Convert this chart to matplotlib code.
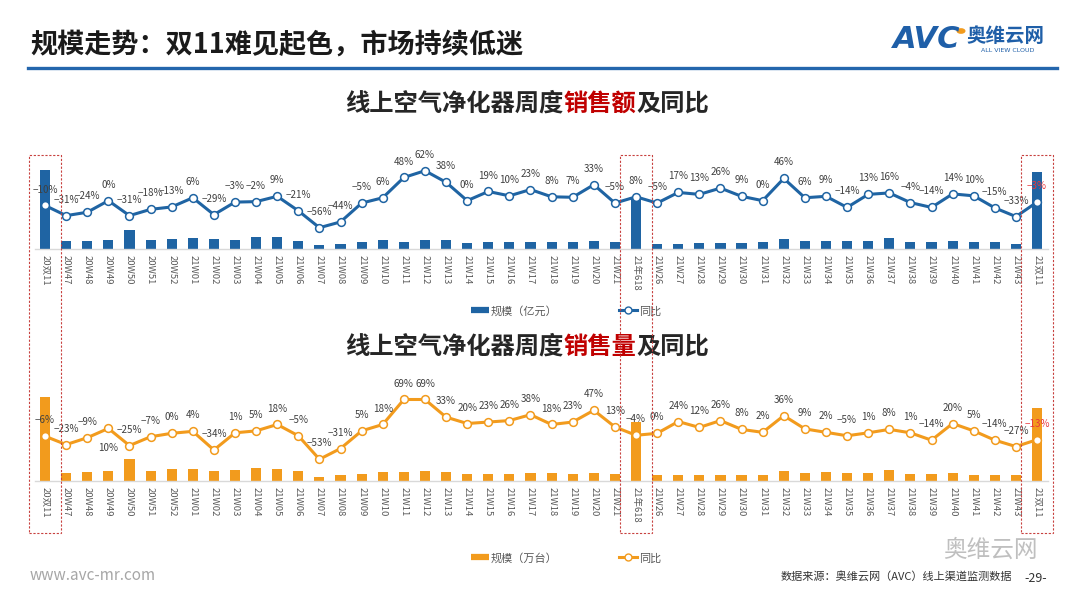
import matplotlib
matplotlib.use('Agg')
import matplotlib.pyplot as plt
from matplotlib.lines import Line2D
from matplotlib.patches import Rectangle
from matplotlib.transforms import blended_transform_factory

plt.rcParams['font.family'] = ['Noto Sans CJK SC', 'DejaVu Sans']
plt.rcParams['axes.unicode_minus'] = False

# ---------------- data ----------------
categories = ['20双11', '20W47', '20W48', '20W49', '20W50', '20W51', '20W52',
              '21W01', '21W02', '21W03', '21W04', '21W05', '21W06', '21W07', '21W08',
              '21W09', '21W10', '21W11', '21W12', '21W13', '21W14', '21W15', '21W16',
              '21W17', '21W18', '21W19', '21W20', '21W21', '21年618',
              '21W26', '21W27', '21W28', '21W29', '21W30', '21W31', '21W32', '21W33',
              '21W34', '21W35', '21W36', '21W37', '21W38', '21W39', '21W40', '21W41',
              '21W42', '21W43', '21双11']

sales_value = [15.9, 1.7, 1.7, 1.9, 3.9, 1.9, 2.1, 2.2, 2.1, 1.9, 2.4, 2.4, 1.7, 0.8, 1.0,
               1.4, 1.8, 1.5, 1.8, 1.8, 1.2, 1.4, 1.4, 1.4, 1.5, 1.4, 1.6, 1.4, 10.1,
               1.1, 1.1, 1.2, 1.2, 1.2, 1.4, 2.1, 1.7, 1.7, 1.7, 1.7, 2.2, 1.4, 1.5, 1.7,
               1.4, 1.4, 1.1, 15.5]
sales_yoy = [-10, -31, -24, 0, -31, -18, -13, 6, -29, -3, -2, 9, -21, -56, -44,
             -5, 6, 48, 62, 38, 0, 19, 10, 23, 8, 7, 33, -5, 8,
             -5, 17, 13, 26, 9, 0, 46, 6, 9, -14, 13, 16, -4, -14, 14, 10,
             -15, -33, -3]

volume = [126, 12, 13.5, 15, 32.5, 15, 17.5, 18.5, 15, 16.5, 20, 18.5, 15, 6, 8.5,
          11, 13.5, 13.5, 15, 13.5, 11, 11, 11, 12, 12, 11, 12, 11, 88,
          8.5, 9.5, 8.5, 9.5, 8.5, 9.5, 15, 12, 13.5, 12, 12, 16.5, 11, 11, 12,
          9.5, 9.5, 8.5, 110]
volume_yoy = [-6, -23, -9, 10, -25, -7, 0, 4, -34, 1, 5, 18, -5, -53, -31,
              5, 18, 69, 69, 33, 20, 23, 26, 38, 18, 23, 47, 13, -4,
              0, 24, 12, 26, 8, 2, 36, 9, 2, -5, 1, 8, 1, -14, 20, 5,
              -14, -27, -13]

highlight = ['20双11', '21年618', '21双11']

# ---------------- style ----------------
W, H = 1080, 608
BLUE = '#1f64a3'
ORANGE = '#f29b1d'
RED_TXT = '#c00000'
LABEL_RED = '#e8383d'
GRAY_TXT = '#404040'

fig = plt.figure(figsize=(W / 100, H / 100), dpi=100)
fig.patch.set_facecolor('white')


def fx(px):
    return px / W


def fy(py):
    return 1 - py / H


x = list(range(len(categories)))
ax_left, ax_right = 34.5, 1047.6


def make_panel(base_py, top_py, bars, yoy, color, bar_max, yoy_lim, below=()):
    ax = fig.add_axes([fx(ax_left), fy(base_py), fx(ax_right - ax_left), (base_py - top_py) / H])
    ax.bar(x, bars, width=0.48, color=color, zorder=2)
    ax.set_xlim(-0.5, len(categories) - 0.5)
    ax.set_ylim(0, bar_max)
    for s in ['top', 'left', 'right']:
        ax.spines[s].set_visible(False)
    ax.spines['bottom'].set_color('#d9d9d9')
    ax.spines['bottom'].set_linewidth(1.0)
    ax.set_yticks([])
    ax.set_xticks(x)
    ax.set_xticklabels(categories, rotation=270, fontsize=6.8, color='#595959')
    ax.tick_params(axis='x', length=0, pad=4)
    for lab in ax.get_xticklabels():
        lab.set_va('top')
        lab.set_ha('center')
    ax.patch.set_alpha(0)

    ax2 = ax.twinx()
    ax2.set_ylim(*yoy_lim)
    ax2.plot(x, yoy, color=color, lw=2.2, marker='o', markersize=5.6,
             markerfacecolor='white', markeredgecolor=color, markeredgewidth=1.1, zorder=5)
    ax2.axis('off')
    for i, v in enumerate(yoy):
        txt = f'{v}%'.replace('-', '−')
        c = LABEL_RED if i == len(yoy) - 1 else GRAY_TXT
        dy = -14 if i in below else 11.5
        ax2.annotate(txt, (i, v), xytext=(0, dy), textcoords='offset points',
                     ha='center', va='center', fontsize=7.1, color=c, zorder=6)
    return ax, ax2


ax_top, ax_top2 = make_panel(249, 150, sales_value, sales_yoy, BLUE, 19.8, (-100.1, 104.9))
ax_bot, ax_bot2 = make_panel(481, 382, volume, volume_yoy, ORANGE, 148.5, (-97.3, 104.7), below={3})

# dashed highlight boxes
tr = blended_transform_factory(ax_top.transData, fig.transFigure)
for name in highlight:
    i = categories.index(name)
    rect = Rectangle((i - 0.76, fy(533)), 1.52, fy(155) - fy(533), transform=tr,
                     fill=False, edgecolor='#c8413f', lw=0.8, ls=(0, (2, 1.5)), zorder=10,
                     clip_on=False)
    fig.add_artist(rect)

# legends
for yleg, lab in [(311, '规模（亿元）'), (558, '规模（万台）')]:
    col = BLUE if yleg == 311 else ORANGE
    handles = [Line2D([], [], color=col, lw=4.5, solid_capstyle='butt'),
               Line2D([], [], color=col, lw=2.2, marker='o', markersize=5,
                      markerfacecolor='white', markeredgecolor=col)]
    fig.legend(handles, [lab, '同比'], loc='center', bbox_to_anchor=(fx(566), fy(yleg)),
               ncol=2, frameon=False, fontsize=8, handlelength=1.6, handletextpad=0.2,
               columnspacing=5.5, labelcolor='#595959')


# chart titles with red highlight words
def title_line(py, parts, size=17.5):
    em = size / 72 * 100
    n = sum(len(p[0]) for p in parts)
    start = 527 - n * em / 2
    k = 0
    for t, c in parts:
        fig.text(fx(start + k * em), fy(py), t, fontsize=size, color=c, fontweight='bold',
                 ha='left', va='center')
        k += len(t)


title_line(104, [('线上空气净化器周度', '#262626'), ('销售额', RED_TXT), ('及同比', '#262626')])
title_line(347, [('线上空气净化器周度', '#262626'), ('销售量', RED_TXT), ('及同比', '#262626')])

# header
fig.text(fx(30), fy(45), '规模走势：双11难见起色，市场持续低迷', fontsize=19.5,
         color='#1a1a1a', ha='left', va='center', fontweight='bold')
fig.add_artist(Line2D([fx(28), fx(1057)], [fy(68), fy(68)], color='#2466ad', lw=2.4))

# logo
fig.text(fx(893), fy(40), 'AVC', fontsize=22, color='#1f5fa8', fontweight='bold',
         fontstyle='italic', ha='left', va='center', family='DejaVu Sans')
fig.add_artist(plt.Circle((fx(961), fy(31)), 0.0035, color='#f29b1d', transform=fig.transFigure))
fig.text(fx(966), fy(36), '奥维云网', fontsize=14, color='#1f5fa8', fontweight='bold',
         ha='left', va='center')
fig.text(fx(1008), fy(51), 'ALL VIEW CLOUD', fontsize=4.5, color='#1f5fa8',
         ha='center', va='center', family='DejaVu Sans')

# footer
fig.text(fx(30), fy(575), 'www.avc-mr.com', fontsize=11, color='#a6a6a6', ha='left', va='center')
fig.text(fx(1012), fy(577), '数据来源：奥维云网（AVC）线上渠道监测数据', fontsize=8,
         color='#333333', ha='right', va='center')
fig.text(fx(1036), fy(579), '-29-', fontsize=9, color='#333333', ha='center', va='center')
fig.text(fx(990), fy(550), '奥维云网', fontsize=17, color='#b0b0b0', ha='center', va='center',
         alpha=0.8)

fig.savefig('out.png', dpi=100, facecolor='white')
